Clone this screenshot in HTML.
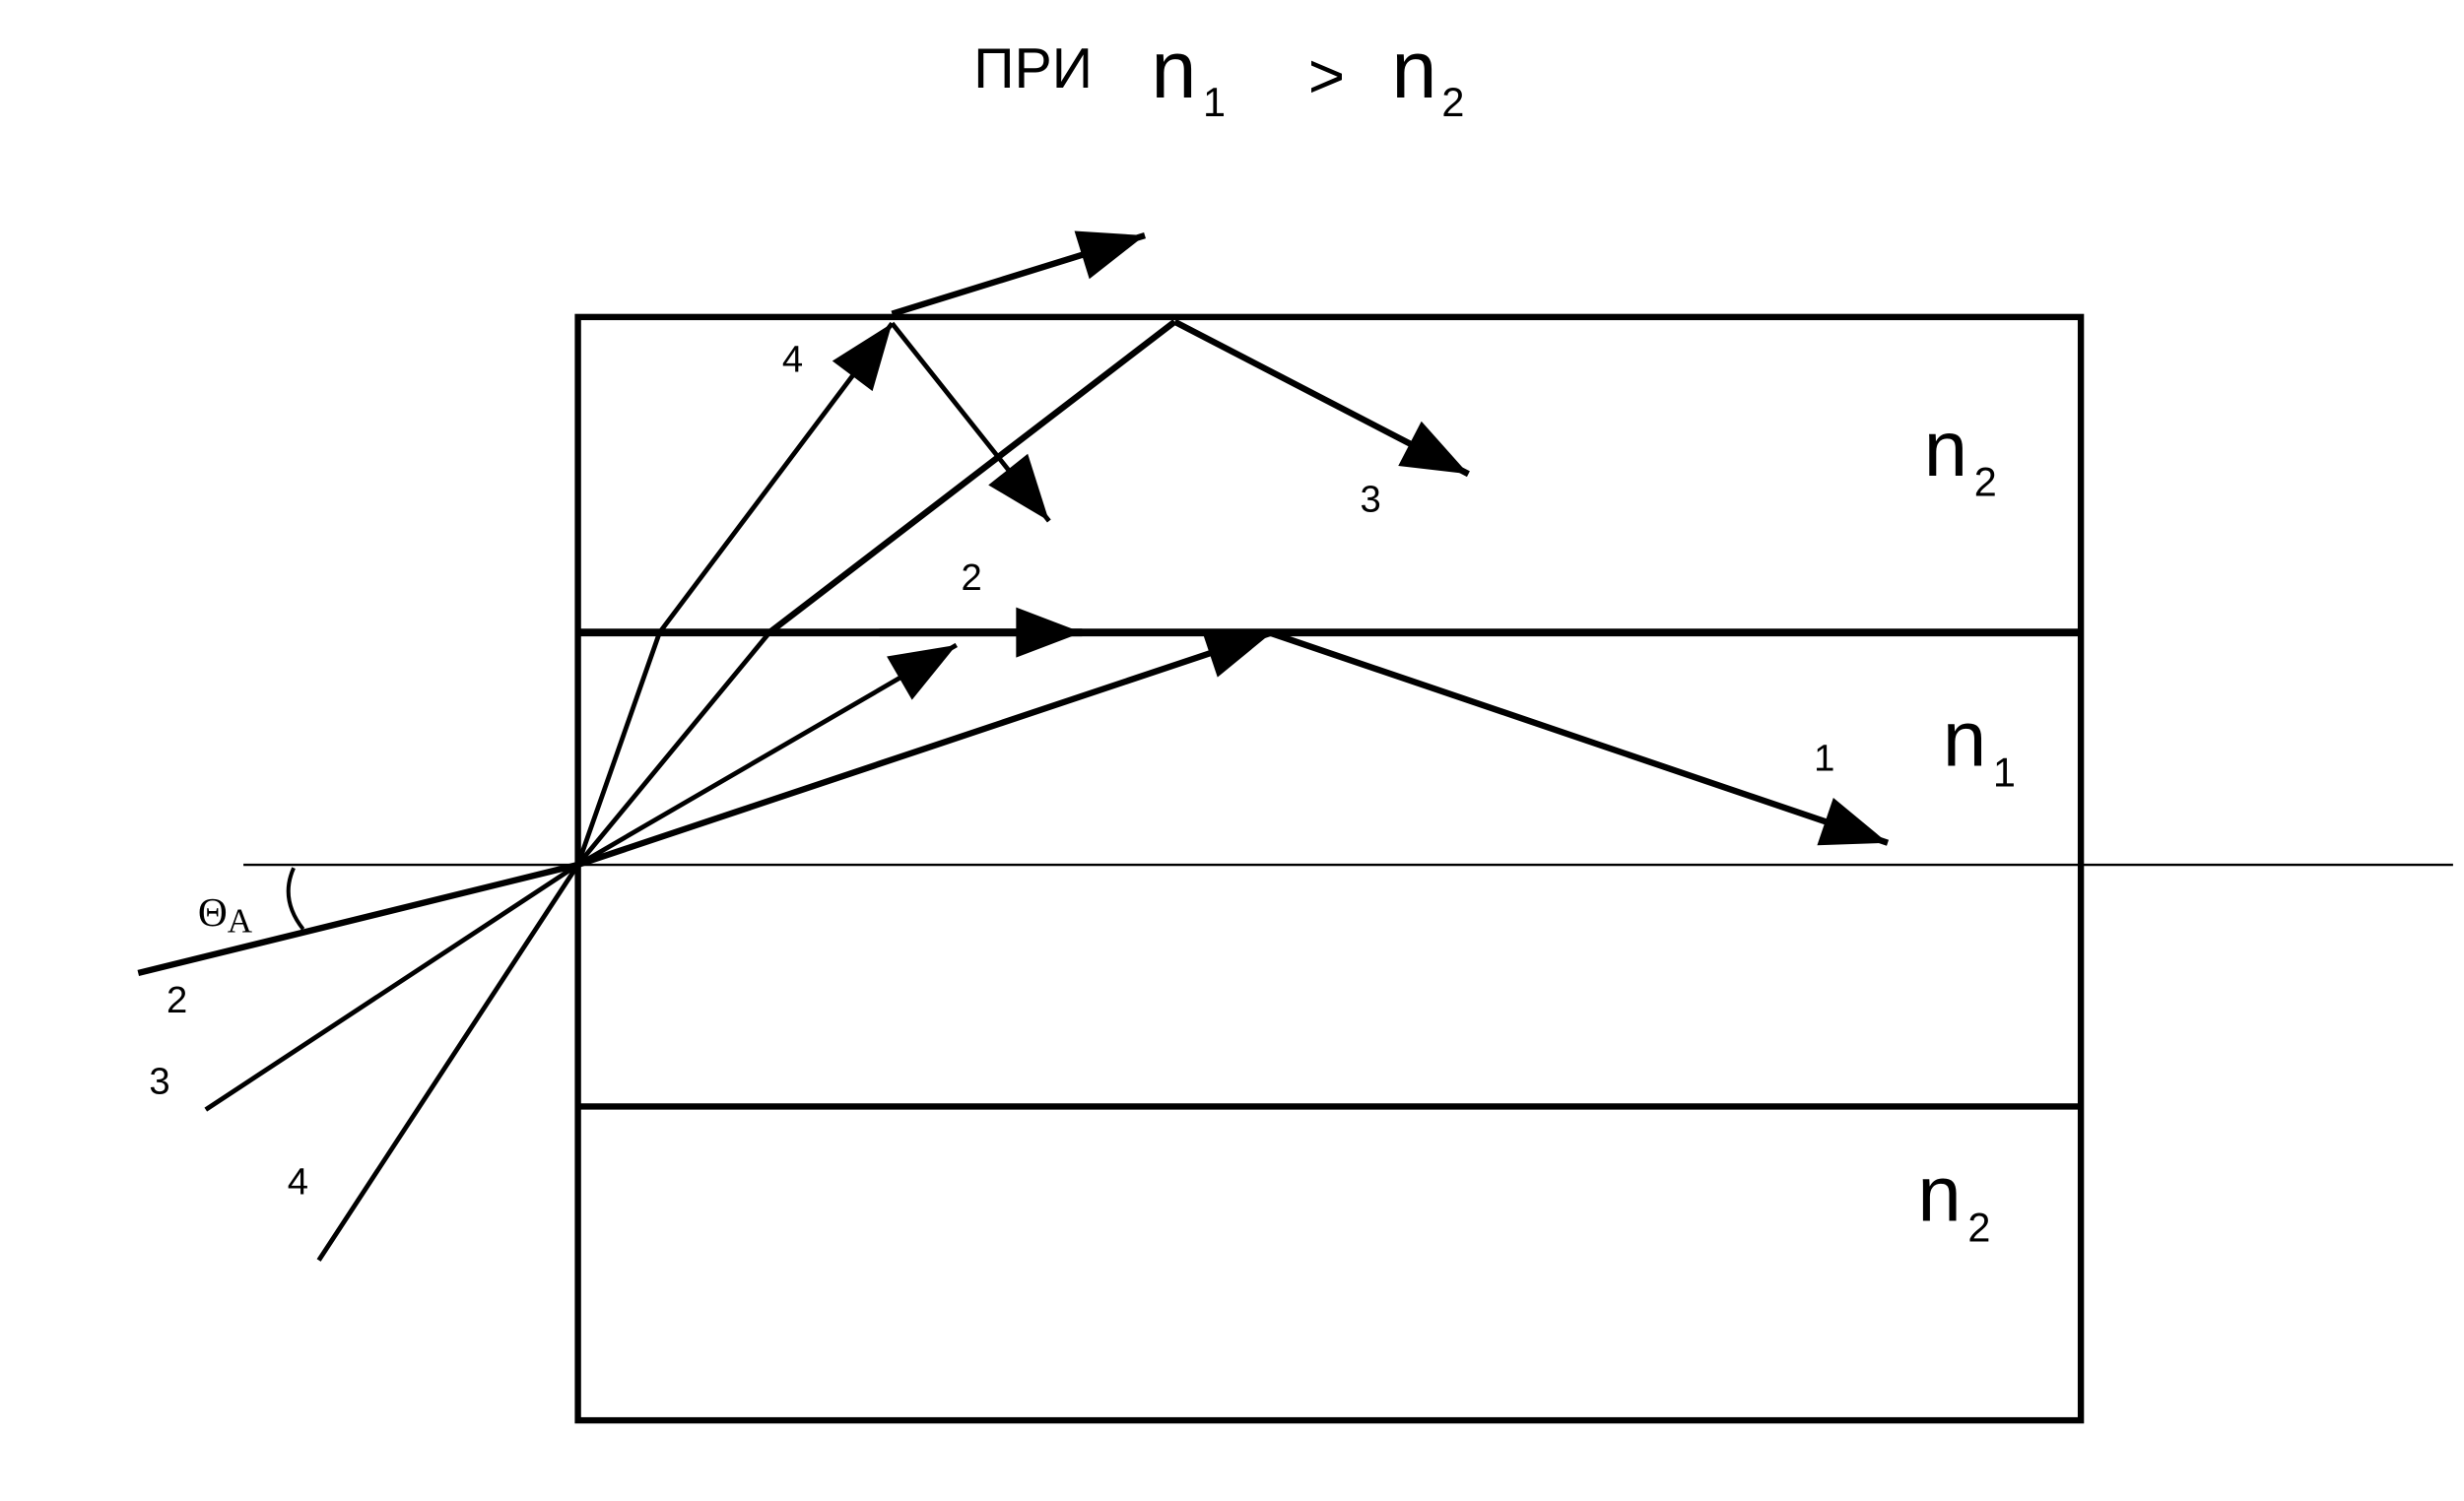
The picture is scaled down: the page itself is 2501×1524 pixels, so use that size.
<!DOCTYPE html>
<html><head><meta charset="utf-8"><style>html,body{margin:0;padding:0;background:#fff}svg{display:block}</style></head>
<body>
<svg width="2501" height="1524" viewBox="0 0 1547 943" preserveAspectRatio="none" xmlns="http://www.w3.org/2000/svg">
<defs>
<marker id="a" markerUnits="userSpaceOnUse" markerWidth="50" markerHeight="40" viewBox="0 -20 44 40" refX="42" refY="0" orient="auto">
<path d="M0,-16 L42,0 L0,16 Z" fill="#000"/>
</marker>
</defs>
<rect width="1547" height="943" fill="#fff"/>
<g transform="scale(0.986)">
<g font-family="Liberation Sans, sans-serif" fill="#000">
<text x="620" y="56" font-size="36">ПРИ</text>
<text x="733" y="62" font-size="52">n</text>
<text x="766" y="74" font-size="26">1</text>
<text x="833" y="62" font-size="40">&gt;</text>
<text x="886" y="62" font-size="52">n</text>
<text x="918" y="74" font-size="26">2</text>
<text x="1225" y="303" font-size="50">n</text><text x="1257" y="316" font-size="26">2</text>
<text x="1237" y="488" font-size="50">n</text><text x="1269" y="501" font-size="26">1</text>
<text x="1221" y="778" font-size="50">n</text><text x="1253" y="791" font-size="26">2</text>
<text x="498" y="237" font-size="24">4</text>
<text x="866" y="326" font-size="24">3</text>
<text x="612" y="376" font-size="24">2</text>
<text x="1155" y="491" font-size="24">1</text>
<text x="106" y="645" font-size="24">2</text>
<text x="95" y="697" font-size="24">3</text>
<text x="183" y="761" font-size="24">4</text>
</g>
<text x="126" y="590" font-family="Liberation Serif, serif" font-size="26">Θ<tspan font-size="22" dy="4">A</tspan></text>
<g stroke="#000" fill="none" stroke-linecap="butt">
<rect x="368" y="202" width="957" height="703" stroke-width="4"/>
<line x1="368" y1="403" x2="1325" y2="403" stroke-width="5"/>
<line x1="368" y1="705" x2="1325" y2="705" stroke-width="4"/>
<line x1="155" y1="551" x2="1562" y2="551" stroke-width="1.5"/>
<path d="M187,553 Q178,573 193,592" stroke-width="2.5"/>
<line x1="88" y1="620" x2="368" y2="551" stroke-width="4"/>
<line x1="131" y1="707" x2="368" y2="551" stroke-width="3"/>
<line x1="203" y1="803" x2="368" y2="551" stroke-width="3"/>
<line x1="368" y1="551" x2="420" y2="403" stroke-width="3"/>
<line x1="420" y1="403" x2="568" y2="206" stroke-width="3" marker-end="url(#a)"/>
<line x1="568" y1="206" x2="668" y2="332" stroke-width="3" marker-end="url(#a)"/>
<line x1="568" y1="200" x2="729" y2="150" stroke-width="4" marker-end="url(#a)"/>
<line x1="368" y1="551" x2="490" y2="403" stroke-width="3"/>
<line x1="490" y1="403" x2="748" y2="205" stroke-width="4"/>
<line x1="748" y1="205" x2="935" y2="302" stroke-width="4" marker-end="url(#a)"/>
<line x1="368" y1="551" x2="609" y2="411" stroke-width="3" marker-end="url(#a)"/>
<line x1="560" y1="403" x2="689" y2="403" stroke-width="5" marker-end="url(#a)"/>
<line x1="368" y1="551" x2="810" y2="403" stroke-width="4" marker-end="url(#a)"/>
<line x1="808" y1="403" x2="1202" y2="537" stroke-width="4" marker-end="url(#a)"/>
</g>
</g>
</svg>
</body></html>
